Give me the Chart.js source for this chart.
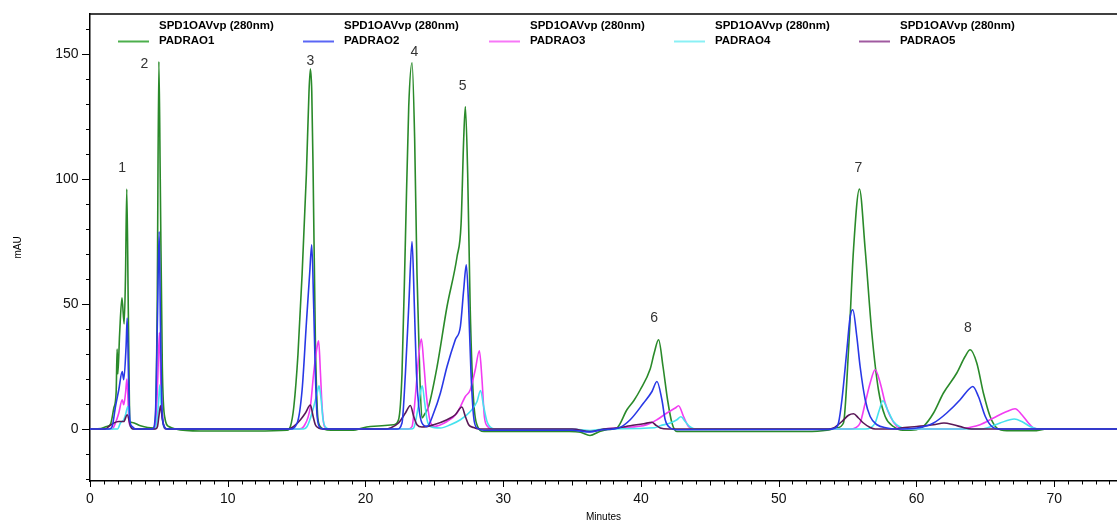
<!DOCTYPE html>
<html><head><meta charset="utf-8">
<script src="https://cdn.jsdelivr.net/npm/chart.js@4"></script>
<style>html,body{margin:0;padding:0;background:#fff;}#wrap{width:1117px;height:522px;}</style>
</head><body><div id="wrap"><canvas id="c" width="1117" height="522"></canvas></div>
<script>
// ---- data (retention time in minutes, absorbance in mAU) ----
const seriesNames = ['PADRAO1', 'PADRAO2', 'PADRAO3', 'PADRAO4', 'PADRAO5'];
const detectorLabel = 'SPD1OAVvp (280nm)';
const xTicks = [0, 10, 20, 30, 40, 50, 60, 70];
const yTicks = [0, 50, 100, 150];
const peakLabels = ['1', '2', '3', '4', '5', '6', '7', '8'];
const peakLabelX = [2.34, 3.95, 16.0, 23.55, 27.05, 40.96, 55.78, 63.73];
const peakLabelY = [104.4, 146.1, 147.0, 150.6, 137.0, 44.5, 104.4, 40.4];

const padrao1 = [[0,0],[0.8,0.2],[1.2,1],[1.5,2.1],[1.73,8.4],[1.9,15],[1.97,32],[2.02,22],[2.15,38],[2.32,52.5],[2.48,42],[2.58,62],[2.67,96],[2.78,48],[2.9,3],[3.06,2.6],[3.66,1.3],[4.6,0.4],[4.75,4],[4.88,50],[5.0,147],[5.1,100],[5.25,25],[5.45,4],[5.72,1],[6.2,0],[8,-0.8],[12,-0.8],[14.3,-0.5],[14.55,1],[14.8,9],[15.1,30],[15.4,62],[15.71,102],[15.9,135],[16.0,144],[16.1,135],[16.2,102],[16.36,36],[16.5,8],[16.6,2.4],[16.97,0],[17.5,-0.5],[19,-0.5],[20.35,1],[22.05,1.7],[22.4,3.7],[22.65,22],[22.9,76],[23.14,129],[23.38,146.5],[23.57,116],[23.74,62],[23.94,22],[24.1,4.4],[24.3,6],[24.58,9],[25.2,25],[25.92,49],[26.65,69],[26.94,82],[27.13,116],[27.25,129],[27.42,102],[27.6,49],[27.8,16],[28.05,2.4],[28.6,-1],[30,-1],[34.8,-1],[35.6,-1.3],[36.3,-2.6],[37,-1],[37.6,-0.2],[38.25,0.4],[38.98,7.7],[39.5,11.5],[39.95,15.7],[40.67,24],[40.96,30.4],[41.28,35.7],[41.6,25],[41.93,11.7],[42.25,2.4],[42.6,-1],[45,-1],[52,-1],[53.5,-0.5],[54.2,0.4],[54.7,2.4],[55.07,31.7],[55.43,71.7],[55.86,96],[56.28,71.7],[56.76,38.4],[57.24,15.7],[57.73,5],[58.33,1],[59,-0.5],[60,-0.3],[60.5,1],[61.24,6.4],[61.96,14.4],[62.93,22.4],[63.53,29],[63.9,31.7],[64.38,26.4],[64.86,14.4],[65.35,5],[65.84,0.4],[66.56,-0.7],[68.5,-0.7],[69.5,0],[74.6,0]];
const padrao2 = [[0,0],[1.4,0],[1.61,1],[1.85,9],[2.09,15.7],[2.34,23],[2.45,19.7],[2.62,33],[2.7,44.4],[2.8,20],[2.89,3.7],[3.06,1],[3.3,0],[4.55,0],[4.75,6],[4.9,45],[5.02,79],[5.12,40],[5.24,6.4],[5.4,1],[5.6,0],[14.5,0],[15.04,2.4],[15.4,15.7],[15.71,42.4],[15.95,62.4],[16.1,73.7],[16.24,49],[16.36,22.4],[16.49,5],[16.73,0.4],[17,0],[22.3,0],[22.65,2.4],[22.9,22.4],[23.14,49],[23.38,75],[23.55,49],[23.7,22.4],[23.87,9],[24.1,2.4],[24.47,1],[24.95,6.4],[25.44,14.4],[25.92,25],[26.52,35.7],[26.89,41],[27.13,55.7],[27.32,65.7],[27.49,49],[27.66,22.4],[27.85,5],[28.1,0.4],[28.6,-0.5],[35,-0.5],[36.3,-1.2],[37.2,-0.3],[38.37,0.4],[39.22,3.7],[40.19,10.4],[40.8,15],[41.16,19],[41.52,11.7],[41.76,3.7],[42.13,0.4],[42.6,-0.3],[53.5,-0.2],[54.1,0.4],[54.34,2.4],[54.59,11.7],[54.95,31.7],[55.19,45],[55.38,47.7],[55.67,37],[55.91,25],[56.28,11.7],[56.64,5],[57.13,1.7],[57.85,0.4],[58.5,0],[60.03,0.4],[61.24,2.4],[62.2,6.4],[63.17,11.7],[63.77,15.7],[64.09,17],[64.5,13],[65,5],[65.47,1],[66.07,0],[74.6,0]];
const padrao3 = [[0,0],[1.6,0],[1.85,2.4],[2.09,6.4],[2.34,11.7],[2.45,9.7],[2.58,14.4],[2.68,20],[2.82,3.7],[2.94,1],[3.2,0],[4.6,0],[4.78,3],[4.92,20],[5.04,38.6],[5.15,18],[5.3,3],[5.5,0],[15.2,0],[15.52,1],[16.0,9],[16.24,22.4],[16.49,33],[16.6,35.3],[16.73,22.4],[16.85,9],[17.02,1],[17.3,0],[23.1,0],[23.38,1],[23.62,13],[23.86,29],[24.06,36],[24.23,26.4],[24.43,13],[24.67,3.7],[24.95,1],[25.92,3],[26.65,6.4],[27.25,13],[27.61,15.7],[27.97,23.7],[28.27,31.3],[28.46,19.7],[28.63,5],[28.87,1],[29.2,0],[35,0],[36.3,-1],[37.3,0],[38.5,0.5],[40.43,1.7],[41.16,3.7],[41.88,6.4],[42.49,8.4],[42.73,9.3],[43.09,5],[43.45,1],[43.8,0],[55.2,0],[55.55,0.4],[55.91,2.4],[56.28,10.4],[56.64,18.4],[57.0,23.7],[57.37,18.4],[57.73,10.4],[58.1,5],[58.58,1],[59,0],[63.3,0],[63.66,0.4],[64.62,1.7],[65.59,4.4],[66.56,7],[67.16,8.1],[67.65,5.7],[68.13,2.4],[68.5,0.4],[69,0],[74.6,0]];
const padrao4 = [[0,0],[2.0,0],[2.21,2.4],[2.45,3.7],[2.58,5.7],[2.75,9],[2.95,1],[3.1,0],[4.7,0],[4.85,3],[4.97,10],[5.07,17.7],[5.18,8],[5.35,1],[5.5,0],[15.5,0],[15.76,1],[16.12,6.4],[16.49,14.4],[16.63,17.3],[16.78,11.7],[16.92,3.7],[17.09,0.8],[17.4,0],[23.3,0],[23.5,0.4],[23.79,7.7],[23.98,14.4],[24.12,17.3],[24.3,10.4],[24.47,3.7],[24.71,1],[25.44,0.4],[26.17,1.7],[26.89,3.7],[27.61,7],[28.1,11],[28.35,15.4],[28.58,9],[28.82,3],[29.06,0.8],[29.4,0],[35,0],[36.3,-0.6],[37.3,0],[41,0.5],[41.4,1.3],[42.13,2.4],[42.61,3.7],[42.9,4.9],[43.21,3],[43.58,0.8],[44,0],[56.3,0],[56.64,0.4],[57.0,2.4],[57.31,7.7],[57.56,11.3],[57.9,7.7],[58.33,3],[58.82,0.8],[59.3,0],[64.7,0],[65.1,0.4],[66.07,2.4],[67.1,4],[67.65,3],[68.25,1],[68.8,0],[74.6,0]];
const padrao5 = [[0,0],[1.1,0],[1.37,1],[1.73,2.4],[2.09,3],[2.45,3],[2.7,5.7],[2.95,1],[3.1,0],[4.75,0],[4.9,1],[5.0,5],[5.12,9.3],[5.25,4],[5.42,0.5],[5.6,0],[14.4,0],[14.79,1],[15.28,3.7],[15.64,6.4],[16.0,9.6],[16.2,5],[16.36,1.7],[16.6,0.4],[16.9,0],[21.5,0],[21.8,0.4],[22.4,2.4],[22.9,6.4],[23.26,9.4],[23.5,5],[23.74,1.7],[24.1,0.8],[24.95,1.7],[25.92,3.7],[26.52,5.7],[27.0,8.8],[27.25,5],[27.49,1.7],[27.85,0.6],[28.3,0],[35,0],[36.3,-1],[37.3,0],[38.25,0.4],[39.22,1.3],[40.19,2.1],[40.8,2.7],[41.04,1.7],[41.4,0.4],[42,0],[53.6,0],[53.97,0.4],[54.59,3],[55.07,5.5],[55.43,6.1],[55.79,4.4],[56.15,2.4],[56.64,0.6],[57,0],[58.5,0],[58.82,0.4],[60.03,1],[61.24,1.7],[62.0,2.4],[62.69,1.7],[63.41,0.6],[64,0],[74.6,0]];

// ---- styles ----
const seriesData = [padrao1, padrao2, padrao3, padrao4, padrao5];
const lineColors = ['#2a8a2a', '#2838e6', '#f23cf2', '#45e2ee', '#5a1858'];
const legendColors = ['#4caf4c', '#5a66f5', '#f777f7', '#8af0f5', '#a05aa0'];
const drawOrder = [5, 1, 4, 3, 2];
const FONT = "'Liberation Sans', Arial, sans-serif";

const datasets = seriesData.map((pts, i) => ({
  label: seriesNames[i],
  data: pts.map(p => ({x: p[0], y: p[1]})),
  borderColor: lineColors[i],
  borderWidth: 1.6,
  pointRadius: 0,
  fill: false,
  cubicInterpolationMode: 'monotone',
  order: drawOrder[i]
}));

const decorPlugin = {
  id: 'decor',
  afterDraw(chart) {
    const ctx = chart.ctx, ca = chart.chartArea;
    const xs = chart.scales.x, ys = chart.scales.y;
    ctx.save();
    // top frame
    ctx.strokeStyle = '#000'; ctx.lineWidth = 1.5;
    ctx.beginPath(); ctx.moveTo(ca.left, ca.top); ctx.lineTo(ca.right, ca.top); ctx.stroke();
    // tick marks
    ctx.lineWidth = 1;
    ctx.beginPath();
    for (let v = -20; v <= 160; v += 10) {
      const py = Math.round(ys.getPixelForValue(v)) + 0.5;
      const len = (v % 50 === 0) ? 8 : 4;
      ctx.moveTo(ca.left, py); ctx.lineTo(ca.left - len, py);
    }
    for (let v = 0; v <= 74; v += 1) {
      const px = Math.round(xs.getPixelForValue(v)) + 0.5;
      const len = (v % 10 === 0) ? 6 : (v % 5 === 0 ? 4.5 : 3.5);
      ctx.moveTo(px, ca.bottom); ctx.lineTo(px, ca.bottom + len);
    }
    ctx.stroke();
    // legend
    const legendX = [159, 344, 530, 715, 900];
    ctx.font = 'bold 11.5px ' + FONT;
    ctx.textBaseline = 'middle'; ctx.textAlign = 'left'; ctx.fillStyle = '#000';
    legendX.forEach((lx, i) => {
      ctx.fillText(detectorLabel, lx, 26);
      ctx.fillText(seriesNames[i], lx, 41);
      ctx.strokeStyle = legendColors[i]; ctx.lineWidth = 2;
      ctx.beginPath(); ctx.moveTo(lx - 41, 41.5); ctx.lineTo(lx - 10, 41.5); ctx.stroke();
    });
    // peak numbers
    ctx.font = '14px ' + FONT; ctx.fillStyle = '#333'; ctx.textAlign = 'center';
    peakLabels.forEach((t, i) => {
      ctx.fillText(t, xs.getPixelForValue(peakLabelX[i]), ys.getPixelForValue(peakLabelY[i]));
    });
    ctx.restore();
  }
};

new Chart(document.getElementById('c'), {
  type: 'line',
  data: {datasets},
  options: {
    responsive: false, animation: false, events: [],
    layout: {padding: {top: 14, right: 0, left: 0, bottom: 0}},
    plugins: {legend: {display: false}, tooltip: {enabled: false}},
    scales: {
      x: {
        type: 'linear', min: 0, max: 74.56,
        afterFit(s) { s.height = 41; s.paddingLeft = 0; s.paddingRight = 0; },
        afterBuildTicks(s) { s.ticks = xTicks.map(v => ({value: v})); },
        grid: {display: false, drawTicks: false},
        border: {display: true, color: '#000', width: 1.5},
        ticks: {padding: 10, color: '#111', font: {family: FONT, size: 14}, maxRotation: 0, autoSkip: false},
        title: {display: true, text: 'Minutes', color: '#000', font: {family: FONT, size: 10, lineHeight: 1}, padding: {top: 0, bottom: 0}}
      },
      y: {
        type: 'linear', min: -20.8, max: 166,
        afterFit(s) { s.width = 90; s.paddingTop = 0; s.paddingBottom = 0; },
        afterBuildTicks(s) { s.ticks = yTicks.map(v => ({value: v})); },
        grid: {display: false, drawTicks: false},
        border: {display: true, color: '#000', width: 1.5},
        ticks: {padding: 11.5, color: '#111', font: {family: FONT, size: 14}},
        title: {display: true, text: 'mAU', color: '#000', font: {family: FONT, size: 10, lineHeight: 1.2}, padding: {top: 12, bottom: 0}}
      }
    }
  },
  plugins: [decorPlugin]
});
</script>
</body></html>
